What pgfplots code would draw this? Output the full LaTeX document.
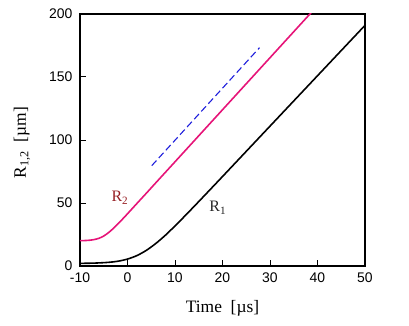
\documentclass[border=0pt]{standalone}
\usepackage{fontspec}
\setmainfont{Liberation Serif}
\newfontfamily\ticksans{Liberation Sans}
\usepackage{pgfplots}
\pgfplotsset{compat=1.18}
\definecolor{rtwo}{RGB}{230,20,120}
\definecolor{rtwolab}{RGB}{150,30,35}
\definecolor{slopeblue}{RGB}{30,30,220}
\begin{document}
\begin{tikzpicture}
\begin{axis}[
  width=285bp, height=252bp,
  scale only axis=true,
  xmin=-10, xmax=50, ymin=0, ymax=200,
  xtick={-10,0,...,50}, ytick={0,50,...,200},
  xtick pos=bottom, ytick pos=left,
  tick align=inside,
  major tick length=6bp,
  axis line style={line width=1.3pt},
  tick style={line width=1pt, black},
  ticklabel style={font=\ticksans\fontsize{14}{14}\selectfont},
  xticklabel style={yshift=-3bp},
  yticklabel style={xshift=-4bp},
  /pgf/number format/assume math mode=true,
  xlabel={Time\ \ [µs]},
  ylabel={R\textsubscript{1,2}\ \ [µm]},
  label style={font=\fontsize{17.5}{17.5}\selectfont},
  xlabel style={at={(axis description cs:0.5,-0.167)}, anchor=center},
  ylabel style={at={(axis description cs:-0.2035,0.49)}, anchor=center},
  clip=true,
]
% R2
\addplot[color=rtwo, line width=1.6pt, smooth] coordinates {
  (-10,20.1) (-9,20.2) (-8,20.45) (-7,21) (-6,22) (-5,23.8) (-4,26.45)
  (-3,29.75) (-2,33.45) (-1,37.4) (0,41.45) (2,49.7) (4,57.9) (6,66.2)
  (10,82.7) (20,124) (30,165.3) (40,206.6)
};
% R1
\addplot[color=black, line width=1.6pt, smooth] coordinates {
  (-10,2.1) (-7,2.3) (-4,2.9) (-2,3.8) (0,5.5) (2,8.3) (4,12.5)
  (6,18) (8,24.5) (10,31.8) (12,39.4) (14,47.2) (16,55.1) (20,71)
  (30,111) (40,151) (50,191)
};
% slope guide
\addplot[color=slopeblue, line width=1.1pt, dash pattern=on 7bp off 3.5bp] coordinates {
  (5.1,79.6) (27.8,173.3)
};
\node[text=rtwolab, font=\fontsize{16}{16}\selectfont] at (axis cs:-1.6,54) {R\textsubscript{2}};
\node[text=black!85, font=\fontsize{16}{16}\selectfont] at (axis cs:19,46) {R\textsubscript{1}};
\end{axis}
\path (current axis.south west) ++(-80bp,-60bp) rectangle ++(409bp,326bp);
\end{tikzpicture}
\end{document}
